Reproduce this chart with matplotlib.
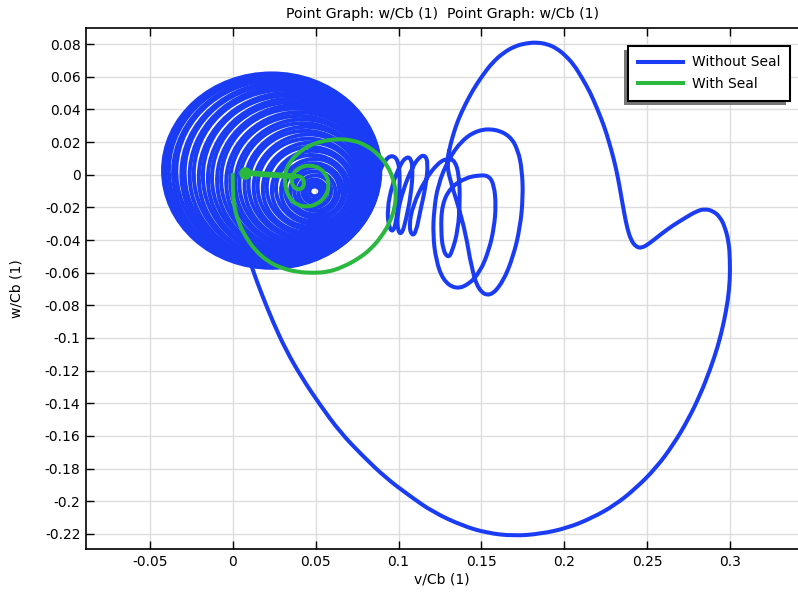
import matplotlib
matplotlib.use("Agg")
import matplotlib.pyplot as plt
from matplotlib.patches import Ellipse, Rectangle, PathPatch
from matplotlib.path import Path
from matplotlib.lines import Line2D
from matplotlib.transforms import IdentityTransform

# ---------------- data ----------------
series_names = ["Without Seal", "With Seal"]

# Without Seal: loops leaving the whirl
ws_loops_x = [0.0828, 0.0876, 0.0918, 0.0961, 0.0997, 0.1009, 0.1003, 0.0985, 0.0967, 0.0943, 0.0931,
              0.0961, 0.1009, 0.1045, 0.1075, 0.1087, 0.1075, 0.1045, 0.1021, 0.0997, 0.0991,
              0.1027, 0.1081, 0.1124, 0.1160, 0.1178, 0.1166, 0.1130, 0.1106, 0.1081, 0.1063,
              0.1087, 0.1160, 0.1238, 0.1299, 0.1341, 0.1365, 0.1371, 0.1359, 0.1323, 0.1299, 0.1268, 0.1256, 0.1262,
              0.1311, 0.1401, 0.1492, 0.1546, 0.1576, 0.1588, 0.1576, 0.1546, 0.1492, 0.1419, 0.1341, 0.1268, 0.1226, 0.1208, 0.1214, 0.1238,
              0.1299, 0.1383, 0.1480, 0.1582, 0.1673, 0.1721, 0.1745, 0.1751, 0.1733, 0.1691, 0.1630, 0.1552, 0.1480, 0.1437, 0.1407, 0.1359, 0.1311,
              0.1293, 0.1305]
ws_loops_y = [-0.0155, -0.0002, 0.0090, 0.0121, 0.0090, -0.0002, -0.0155, -0.0290, -0.0351, -0.0326, -0.0216,
              -0.0063, 0.0059, 0.0108, 0.0102, 0.0029, -0.0124, -0.0277, -0.0363, -0.0351, -0.0247,
              -0.0094, 0.0041, 0.0108, 0.0121, 0.0072, -0.0063, -0.0228, -0.0351, -0.0375, -0.0314,
              -0.0186, -0.0032, 0.0072, 0.0102, 0.0084, -0.0002, -0.0155, -0.0339, -0.0473, -0.0510, -0.0461, -0.0339, -0.0186,
              -0.0081, -0.0020, -0.0002, -0.0008, -0.0063, -0.0186, -0.0326, -0.0461, -0.0596, -0.0676, -0.0700, -0.0645, -0.0522, -0.0369, -0.0216, -0.0063,
              0.0090, 0.0212, 0.0274, 0.0280, 0.0237, 0.0151, 0.0029, -0.0137, -0.0326, -0.0504, -0.0657, -0.0749, -0.0706, -0.0553, -0.0369, -0.0186, -0.0032,
              0.0059, 0.0151]

# Without Seal: large orbit
ws_orbit_x = [0.1293, 0.1305, 0.1329, 0.1359, 0.1401, 0.1449, 0.1504, 0.1564, 0.1630, 0.1703, 0.1775, 0.1835,
              0.1896, 0.1950, 0.2004, 0.2059, 0.2107, 0.2155, 0.2197, 0.2240, 0.2270, 0.2300, 0.2324, 0.2342,
              0.2360, 0.2379, 0.2402, 0.2433, 0.2469, 0.2517, 0.2577, 0.2650, 0.2728, 0.2800, 0.2848, 0.2897,
              0.2939, 0.2969, 0.2993, 0.2999, 0.2999, 0.2987, 0.2963, 0.2927, 0.2879, 0.2819, 0.2746, 0.2656,
              0.2553, 0.2433, 0.2306, 0.2167, 0.2017, 0.1854, 0.1691, 0.1534, 0.1389, 0.1208, 0.1069, 0.0925,
              0.0785, 0.0647, 0.0527, 0.0418, 0.0321, 0.0243, 0.0177, 0.0116, 0.0074]
ws_orbit_y = [0.0059, 0.0151, 0.0243, 0.0335, 0.0427, 0.0519, 0.0604, 0.0684, 0.0745, 0.0788, 0.0806, 0.0810,
              0.0800, 0.0776, 0.0733, 0.0672, 0.0592, 0.0506, 0.0408, 0.0298, 0.0200, 0.0090, -0.0020, -0.0124,
              -0.0228, -0.0326, -0.0400, -0.0443, -0.0449, -0.0418, -0.0369, -0.0314, -0.0265, -0.0222, -0.0210, -0.0222,
              -0.0259, -0.0320, -0.0418, -0.0522, -0.0645, -0.0767, -0.0902, -0.1049, -0.1195, -0.1349, -0.1502, -0.1655,
              -0.1796, -0.1919, -0.2023, -0.2102, -0.2164, -0.2200, -0.2212, -0.2194, -0.2151, -0.2066, -0.1968, -0.1858,
              -0.1723, -0.1576, -0.1410, -0.1245, -0.1074, -0.0902, -0.0737, -0.0571, -0.0430]

# Without Seal: steady whirl rings (extents) and tilt in degrees
ring_left = [-0.0420, -0.0405, -0.0385, -0.0360, -0.0340, -0.0310, -0.0290, -0.0260, -0.0235, -0.0205, -0.0180,
             -0.0150, -0.0125, -0.0095, -0.0070, -0.0040, -0.0015, 0.0015, 0.0040, 0.0070, 0.0095, 0.0125,
             0.0150, 0.0180, 0.0205, 0.0235, 0.0260, 0.0290, 0.0315, 0.0345, 0.0370, 0.0395, 0.0420,
             0.0440, 0.0462]
ring_right = [0.0890, 0.0888, 0.0885, 0.0882, 0.0880, 0.0877, 0.0873, 0.0870, 0.0866, 0.0862, 0.0858,
              0.0853, 0.0848, 0.0843, 0.0837, 0.0830, 0.0823, 0.0815, 0.0807, 0.0798, 0.0788, 0.0777,
              0.0765, 0.0752, 0.0738, 0.0722, 0.0705, 0.0686, 0.0666, 0.0644, 0.0620, 0.0595, 0.0568,
              0.0548, 0.0528]
ring_top = [0.0620, 0.0612, 0.0603, 0.0592, 0.0580, 0.0565, 0.0552, 0.0538, 0.0520, 0.0500, 0.0485,
            0.0465, 0.0445, 0.0425, 0.0405, 0.0382, 0.0360, 0.0338, 0.0315, 0.0292, 0.0268, 0.0245,
            0.0220, 0.0195, 0.0170, 0.0145, 0.0120, 0.0095, 0.0070, 0.0045, 0.0020, -0.0005, -0.0030,
            -0.0050, -0.0072]
ring_bottom = [-0.0570, -0.0565, -0.0560, -0.0555, -0.0548, -0.0542, -0.0537, -0.0530, -0.0523, -0.0516, -0.0508,
               -0.0500, -0.0492, -0.0482, -0.0472, -0.0462, -0.0450, -0.0438, -0.0425, -0.0412, -0.0398, -0.0383,
               -0.0368, -0.0352, -0.0335, -0.0318, -0.0300, -0.0282, -0.0262, -0.0242, -0.0220, -0.0198, -0.0175,
               -0.0155, -0.0132]
ring_tilt = [0, 2, -2, 4, -3, 5, -3, 7, -5, 9, -6, 11, -5, 13, -8, 15, -9, 17, -7, 19, -11, 21,
             -8, 23, -10, 20, -14, 24, -10, 28, -18, 28, -14, 25, 0]

# With Seal
seal_x = [0.0, 0.0, 0.0008, 0.0032, 0.0074, 0.0134, 0.0207, 0.0291, 0.0388, 0.0484, 0.0575, 0.0665,
          0.0756, 0.0834, 0.0900, 0.0949, 0.0979, 0.0985, 0.0967, 0.0931, 0.0876, 0.0804, 0.0720, 0.0629,
          0.0539, 0.0454, 0.0388, 0.0340, 0.0315, 0.0315, 0.0340, 0.0388, 0.0448, 0.0514, 0.0563, 0.0581,
          0.0569, 0.0527, 0.0466, 0.0406, 0.0364, 0.0352, 0.0370, 0.0406, 0.0430, 0.0430, 0.0406, 0.0370]
seal_y = [0.0, -0.0094, -0.0191, -0.0283, -0.0375, -0.0461, -0.0528, -0.0571, -0.0596, -0.0602, -0.0596, -0.0565,
          -0.0516, -0.0455, -0.0375, -0.0290, -0.0198, -0.0106, -0.0020, 0.0059, 0.0127, 0.0182, 0.0212, 0.0219,
          0.0206, 0.0176, 0.0127, 0.0072, 0.0010, -0.0069, -0.0143, -0.0186, -0.0198, -0.0179, -0.0130, -0.0069,
          -0.0008, 0.0041, 0.0059, 0.0047, 0.0010, -0.0039, -0.0081, -0.0094, -0.0069, -0.0032, -0.0008, -0.0008]
seal_tail_x = [0.0370, 0.0285, 0.0195, 0.0115]
seal_tail_y = [-0.0010, -0.0004, 0.0002, 0.0009]
seal_end_x = [0.0077]
seal_end_y = [0.0009]

xticks = [-0.05, 0.0, 0.05, 0.1, 0.15, 0.2, 0.25, 0.3]
xtick_labels = ["-0.05", "0", "0.05", "0.1", "0.15", "0.2", "0.25", "0.3"]
yticks = [0.08, 0.06, 0.04, 0.02, 0.0, -0.02, -0.04, -0.06, -0.08, -0.1, -0.12, -0.14, -0.16, -0.18, -0.2, -0.22]
ytick_labels = ["0.08", "0.06", "0.04", "0.02", "0", "-0.02", "-0.04", "-0.06", "-0.08", "-0.1",
                "-0.12", "-0.14", "-0.16", "-0.18", "-0.2", "-0.22"]

title = "Point Graph: w/Cb (1)  Point Graph: w/Cb (1)"
xlabel = "v/Cb (1)"
ylabel = "w/Cb (1)"

# ---------------- style ----------------
BLUE = "#1a3cf5"
GREEN = "#2bb83f"
LW = 2.9


def smooth_patch(xs, ys, color, lw, z):
    """Quadratic B-spline rendering of the read points via a matplotlib Path."""
    verts = [(xs[0], ys[0])]
    codes = [Path.MOVETO]
    for i in range(1, len(xs) - 1):
        verts.append((xs[i], ys[i]))
        verts.append(((xs[i] + xs[i + 1]) / 2, (ys[i] + ys[i + 1]) / 2))
        codes += [Path.CURVE3, Path.CURVE3]
    verts.append((xs[-1], ys[-1]))
    codes.append(Path.LINETO)
    return PathPatch(Path(verts, codes), fill=False, edgecolor=color, linewidth=lw,
                     capstyle="round", joinstyle="round", zorder=z)


plt.rcParams["font.family"] = ["DejaVu Sans"]
fig = plt.figure(figsize=(7.98, 5.92), dpi=100)
ax = fig.add_axes([86 / 798, 43 / 592, 712 / 798, 521 / 592])

ax.set_xlim(-0.08848, 0.34095)
ax.set_ylim(-0.22921, 0.08983)

for l, r, t, b, a in zip(ring_left, ring_right, ring_top, ring_bottom, ring_tilt):
    ax.add_patch(Ellipse(((l + r) / 2, (t + b) / 2), r - l, t - b, angle=a, fill=False,
                         edgecolor=BLUE, linewidth=LW, zorder=2))
ax.add_patch(smooth_patch(ws_loops_x, ws_loops_y, BLUE, LW, 2))
ax.add_patch(smooth_patch(ws_orbit_x, ws_orbit_y, BLUE, LW, 2))

ax.add_patch(smooth_patch(seal_x, seal_y, GREEN, LW, 3))
ax.plot(seal_tail_x, seal_tail_y, color=GREEN, lw=4.2, solid_capstyle="round", zorder=3)
ax.plot(seal_end_x, seal_end_y, "o", color=GREEN, ms=8, zorder=3)

ax.set_xticks(xticks)
ax.set_xticklabels(xtick_labels)
ax.set_yticks(yticks)
ax.set_yticklabels(ytick_labels)
ax.grid(True, color="#dddddd", linewidth=1.0)
ax.set_axisbelow(True)
ax.tick_params(direction="in", length=6, width=1, labelsize=10, colors="black",
               top=True, right=False, pad=4)
for s in ["left", "bottom", "top"]:
    ax.spines[s].set_linewidth(1.2)
ax.spines["right"].set_visible(False)

ax.set_title(title, fontsize=10.2, pad=7)
ax.set_xlabel(xlabel, fontsize=10, labelpad=3)
ax.set_ylabel(ylabel, fontsize=10, labelpad=15)

handles = [Line2D([], [], color=BLUE, lw=LW), Line2D([], [], color=GREEN, lw=LW)]
leg = ax.legend(handles, series_names, loc="upper right", bbox_to_anchor=(0.9888, 0.966),
                borderaxespad=0, fontsize=10, frameon=True, fancybox=False, framealpha=1,
                edgecolor="black", handlelength=3.3, handletextpad=0.6, borderpad=0.7,
                labelspacing=0.55)
leg.get_frame().set_linewidth(1.5)
leg.set_zorder(6)

fig.canvas.draw()
bb = leg.get_window_extent()
shadow = Rectangle((bb.x0 - 4, bb.y0 - 4), bb.width, bb.height, transform=IdentityTransform(),
                   facecolor="#777777", edgecolor="none", zorder=5.5)
ax.add_artist(shadow)

fig.savefig("out.png", dpi=100)
